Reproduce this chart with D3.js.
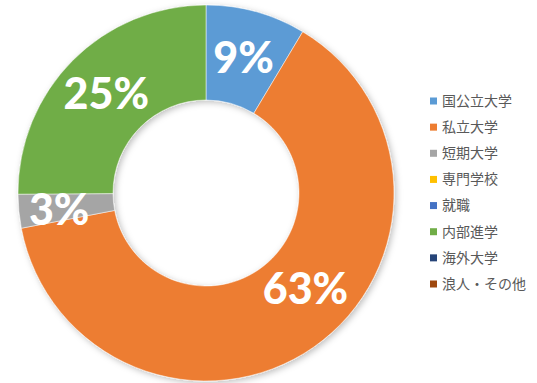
<!DOCTYPE html>
<html lang="ja">
<head>
<meta charset="UTF-8">
<title>進路</title>
<script src="https://d3js.org/d3.v7.min.js"></script>
<style>
  body { margin: 0; background: #fff; }
  svg { display: block; }
</style>
</head>
<body>
<svg></svg>
<script>
// categories and values (share of students, %)
const categories = ["国公立大学", "私立大学", "短期大学", "専門学校", "就職", "内部進学", "海外大学", "浪人・その他"];
const values = [8.6, 63.4, 2.9, 0, 0, 25.1, 0, 0];
const colors = ["#5B9BD5", "#ED7D31", "#A5A5A5", "#FFC000", "#4472C4", "#70AD47", "#264478", "#9E480E"];

const width = 537, height = 383;
const cx = 206, cy = 193, outerR = 188, innerR = 93;
// excel-ish label placement tweaks (px)
const labelNudge = { "私立大学": [19, -20], "短期大学": [-7, 3] };

const svg = d3.select("svg").attr("width", width).attr("height", height);

const defs = svg.append("defs");
const f = defs.append("filter").attr("id", "shadow")
  .attr("x", "-10%").attr("y", "-10%").attr("width", "120%").attr("height", "120%");
f.append("feDropShadow").attr("dx", 2).attr("dy", 2).attr("stdDeviation", 3)
  .attr("flood-color", "#000").attr("flood-opacity", 0.25);

const data = categories.map((c, i) => ({ name: c, value: values[i], color: colors[i] }));
const total = d3.sum(values);

const pie = d3.pie().value(d => d.value).sort(null);
const arc = d3.arc().innerRadius(innerR).outerRadius(outerR);
const labelArc = d3.arc().innerRadius((innerR + outerR) / 2).outerRadius((innerR + outerR) / 2);

const g = svg.append("g").attr("transform", `translate(${cx},${cy})`);
const arcs = pie(data).filter(d => d.data.value > 0);

g.append("g").attr("filter", "url(#shadow)")
  .selectAll("path")
  .data(arcs)
  .join("path")
  .attr("d", arc)
  .attr("fill", d => d.data.color)
  .attr("stroke", "#fff")
  .attr("stroke-width", 0.5);

g.selectAll("text.lbl")
  .data(arcs)
  .join("text")
  .attr("class", "lbl")
  .attr("transform", d => {
    const [x, y] = labelArc.centroid(d);
    const [nx, ny] = labelNudge[d.data.name] || [0, 0];
    return `translate(${x + nx},${y + ny})`;
  })
  .attr("text-anchor", "middle")
  .attr("dy", "0.36em")
  .attr("fill", "#fff")
  .attr("font-family", "Lato, 'Open Sans', sans-serif")
  .attr("font-weight", 900)
  .attr("font-size", 43)
  .text(d => Math.round(d.data.value / total * 100) + "%");

// legend
const legend = svg.append("g").attr("transform", "translate(430,101)");
const rowY = d3.scalePoint().domain(categories).range([0, 183]);
const item = legend.selectAll("g")
  .data(data)
  .join("g")
  .attr("transform", d => `translate(0,${rowY(d.name)})`);
item.append("rect")
  .attr("x", 0).attr("y", -3.5).attr("width", 7).attr("height", 7)
  .attr("fill", d => d.color);
item.append("text")
  .attr("x", 12).attr("dy", "0.35em")
  .attr("fill", "#595959")
  .attr("font-family", "'Noto Sans CJK JP', sans-serif")
  .attr("font-size", 14)
  .text(d => d.name);
</script>
</body>
</html>
